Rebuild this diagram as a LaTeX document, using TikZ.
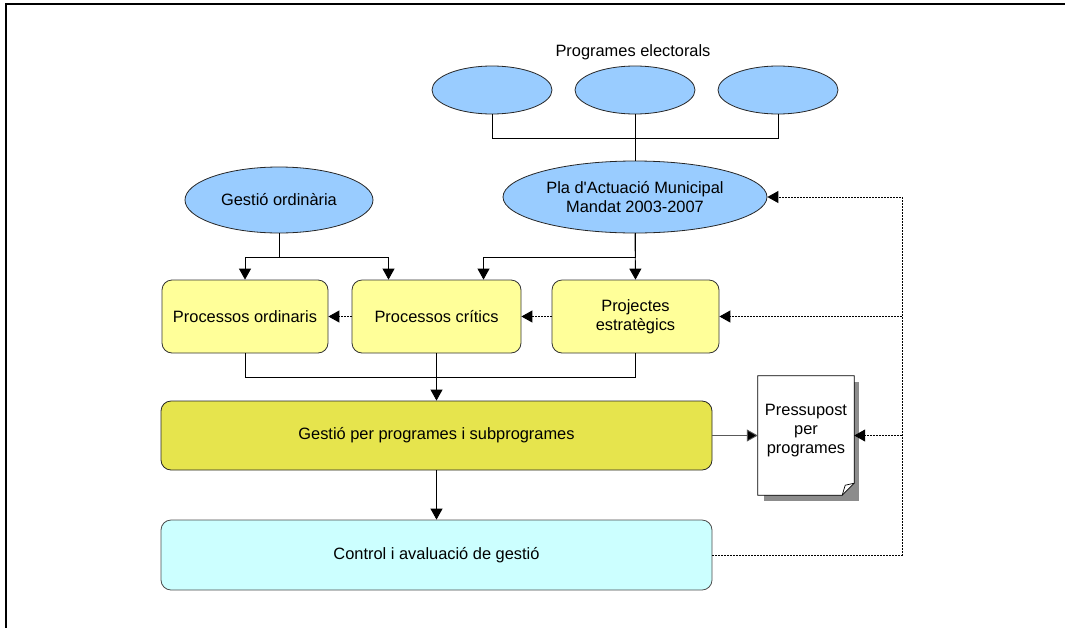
\documentclass[tikz,border=0pt]{standalone}
\usepackage{fontspec}
\setmainfont{Liberation Sans}
\usetikzlibrary{shapes.geometric,arrows.meta}
\definecolor{ovalfill}{HTML}{99CCFF}
\definecolor{procfill}{HTML}{FFFF99}
\definecolor{gestfill}{HTML}{E6E44D}
\definecolor{ctlfill}{HTML}{CCFFFF}
\definecolor{shadowgray}{HTML}{8C8C8C}
\begin{document}
\begin{tikzpicture}[x=1pt,y=-1pt,
  font=\fontsize{16.4}{19}\selectfont,
  every node/.style={inner sep=0pt, align=center},
  oval/.style={ellipse, draw=black!85, line width=0.8pt, fill=ovalfill},
  procbox/.style={rectangle, rounded corners=10pt, draw=black!80, line width=0.8pt, fill=procfill,
    minimum height=73pt},
  widebox/.style={rectangle, rounded corners=10pt, draw=black!85, line width=0.8pt,
    minimum width=551pt},
  conn/.style={line width=0.9pt, draw=black},
  arr/.style={conn, -{Triangle[length=11pt,width=12pt]}},
  dotconn/.style={line width=1pt, draw=black, dash pattern=on 1.6pt off 1.4pt},
  dotarr/.style={dotconn, -{Triangle[length=11pt,width=12pt]}}
]
\useasboundingbox (0,0) rectangle (1065,627);

% page frame
\draw[line width=2.2pt] (6,640) -- (6,4) -- (1080,4);

% electoral programmes
\node (title) at (633,52) {Programes electorals};
\node[oval, minimum width=120pt, minimum height=48pt] (e1) at (492,90) {};
\node[oval, minimum width=120pt, minimum height=48pt] (e2) at (635,90) {};
\node[oval, minimum width=120pt, minimum height=48pt] (e3) at (778,90) {};

% sources
\node[oval, minimum width=264pt, minimum height=72pt] (pla) at (635,197)
  {Pla d\textquotesingle Actuació Municipal\\Mandat 2003-2007};
\node[oval, minimum width=188pt, minimum height=66pt] (go) at (279,200) {Gestió ordinària};

% processes
\node[procbox, minimum width=166pt] (p1) at (245,316.5) {Processos ordinaris};
\node[procbox, minimum width=169pt] (p2) at (436.5,316.5) {Processos crítics};
\node[procbox, minimum width=167pt] (p3) at (635.5,316.5) {Projectes\\estratègics};

% management
\node[widebox, fill=gestfill, minimum height=69pt] (gp) at (436.5,435.5)
  {Gestió per programes i subprogrames};
\node[widebox, fill=ctlfill, draw=black!70, minimum height=70pt] (ctl) at (436.5,555)
  {Control i avaluació de gestió};

% budget document with shadow and folded corner
\fill[shadowgray] (764,382) rectangle (859,501);
\node[rectangle, minimum width=96pt, minimum height=119pt] (doc) at (806,435.5) {};
\fill[white] (doc.north west) -- (doc.north east) -- ([yshift=12pt]doc.south east)
  -- ([xshift=-12pt]doc.south east) -- (doc.south west) -- cycle;
\draw[line width=0.8pt] (doc.north west) -- (doc.north east) -- ([yshift=12pt]doc.south east)
  -- ([xshift=-12pt]doc.south east) -- (doc.south west) -- cycle;
\draw[line width=0.7pt] ([yshift=12pt]doc.south east) -- ([xshift=-9pt,yshift=10pt]doc.south east)
  -- ([xshift=-12pt]doc.south east);
\node (doctext) at ([yshift=4.5pt]doc.center) {Pressupost\\per\\programes};

% rail for feedback lines
\coordinate (rail) at (902,0);

% connectors: electoral programmes to the plan
\draw[conn] (e1.south) -- ++(0,24) -| (e3.south);
\draw[conn] (e2.south) -- (pla.north);

% connectors: sources to processes
\draw[arr] (go.south) -- ++(0,24) -| (p1.north);
\draw[arr] (go.south) -- ++(0,24) -| ([xshift=-48pt]p2.north);
\draw[arr] (pla.south) -- (p3.north);
\draw[arr] (pla.south) -- ++(0,24) -| ([xshift=47pt]p2.north);

% processes to management
\draw[conn] (p1.south) -- ++(0,24) -| (p3.south);
\draw[arr] (p2.south) -- (gp.north);
\draw[arr] (gp.south) -- (ctl.north);
\draw[conn, draw=black!65, -{Triangle[length=11pt,width=12pt,fill=black]}] (gp.east) -- (doc.west);

% dotted feedback
\draw[dotarr] (p3.west) -- (p2.east);
\draw[dotarr] (p2.west) -- (p1.east);
\draw[dotarr] (ctl.east) -| (pla.east -| rail) -- (pla.east);
\draw[dotarr] (p3.east -| rail) -- (p3.east);
\draw[dotarr] (doc.east -| rail) -- (doc.east);
\end{tikzpicture}
\end{document}
